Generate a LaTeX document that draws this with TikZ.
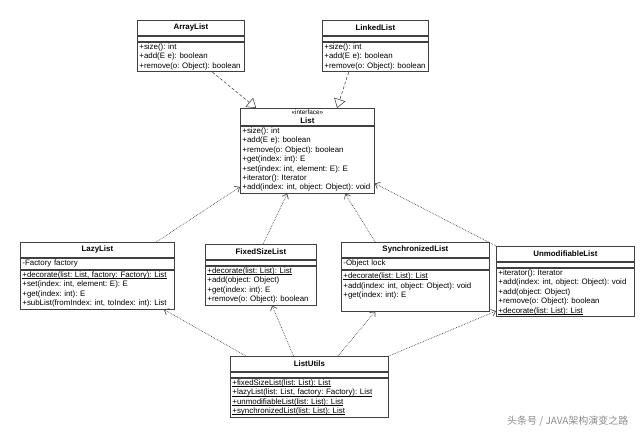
\documentclass[tikz,border=0pt]{standalone}
\usepackage{fontspec}
\setmainfont{Liberation Sans}
\newfontfamily\cjk{Noto Sans CJK SC}
\usetikzlibrary{calc,arrows.meta}
\begin{document}
\frenchspacing
\begin{tikzpicture}[x=1pt,y=-1pt,
  box/.style={draw=black!75,line width=0.8pt,fill=white,anchor=north west,inner xsep=2pt,inner ysep=1.8pt,
    font=\fontsize{7.9}{9.4}\selectfont\frenchspacing,align=left,text width=#1},
  emp/.style={box=#1,minimum height=5pt,inner ysep=0pt},
  real/.style={densely dashed,draw=black!70,line width=0.6pt,-{Triangle[open,length=9pt,width=12pt]}},
  dep/.style={densely dotted,draw=black!70,line width=0.7pt,-{Straight Barb[length=4pt,width=7pt]}}]
\useasboundingbox (0,0) rectangle (640,434);
\newcommand{\ttl}[1]{\makebox[\linewidth]{\textbf{#1}}}
\newcommand{\ul}[1]{\leavevmode\setbox0\hbox{#1}\rlap{\rule[-1.1pt]{\wd0}{0.5pt}}\box0}
% ArrayList
\node[box=103pt,minimum height=15pt] (al) at (137,20) {\ttl{ArrayList}};
\node[emp=103pt] (al2) at (al.south west) {};
\node[box=103pt] (al3) at (al2.south west) {+size(): int\\+add(E e): boolean\\+remove(o: Object): boolean};
% LinkedList
\node[box=102pt,minimum height=15pt] (ll) at (322,20) {\ttl{LinkedList}};
\node[emp=102pt] (ll2) at (ll.south west) {};
\node[box=102pt] (ll3) at (ll2.south west) {+size(): int\\+add(E e): boolean\\+remove(o: Object): boolean};
% List
\node[box=130pt] (li) at (240,108) {\makebox[\linewidth]{\fontsize{6.4}{7}\selectfont «interface»}\\[-1pt]\ttl{List}};
\node[box=130pt] (li2) at (li.south west) {+size(): int\\+add(E e): boolean\\+remove(o: Object): boolean\\+get(index: int): E\\+set(index: int, element: E): E\\+iterator(): Iterator\\+add(index: int, object: Object): void};
% LazyList
\node[box=150pt,minimum height=15pt] (lz) at (20,242) {\ttl{LazyList}};
\node[box=150pt] (lz2) at (lz.south west) {-Factory factory};
\node[box=150pt] (lz3) at (lz2.south west) {\ul{+decorate(list: List, factory: Factory): List}\\+set(index: int, element: E): E\\+get(index: int): E\\+subList(fromIndex: int, toIndex: int): List};
% FixedSizeList
\node[box=107pt,minimum height=15pt] (fx) at (205,244) {\ttl{FixedSizeList}};
\node[emp=107pt] (fx2) at (fx.south west) {};
\node[box=107pt] (fx3) at (fx2.south west) {\ul{+decorate(list: List): List}\\+add(object: Object)\\+get(index: int): E\\+remove(o: Object): boolean};
% SynchronizedList
\node[box=144pt,minimum height=15pt] (sy) at (341,242) {\ttl{SynchronizedList}};
\node[box=144pt] (sy2) at (sy.south west) {-Object lock};
\node[box=144pt,minimum height=41pt] (sy3) at (sy2.south west) {\ul{+decorate(list: List): List}\\+add(index: int, object: Object): void\\+get(index: int): E\vspace{9pt}};
% UnmodifiableList
\node[box=134pt,minimum height=15pt] (um) at (496,246) {\ttl{UnmodifiableList}};
\node[emp=134pt] (um2) at (um.south west) {};
\node[box=134pt] (um3) at (um2.south west) {+iterator(): Iterator\\+add(index: int, object: Object): void\\+add(object: Object)\\+remove(o: Object): boolean\\\ul{+decorate(list: List): List}};
% ListUtils
\node[box=154pt,minimum height=15pt] (lu) at (230,356) {\ttl{ListUtils}};
\node[emp=154pt] (lu2) at (lu.south west) {};
\node[box=154pt] (lu3) at (lu2.south west) {\ul{+fixedSizeList(list: List): List}\\\ul{+lazyList(list: List, factory: Factory): List}\\\ul{+unmodifiableList(list: List): List}\\\ul{+synchronizedList(list: List): List}};
% connectors
\draw[real] ($(al3.south west)!0.7!(al3.south east)$) -- ($(li.north west)!0.12!(li.north east)$);
\draw[real] ($(ll3.south west)!0.25!(ll3.south east)$) -- ($(li.north west)!0.72!(li.north east)$);
\draw[dep] ($(lz.north west)!0.88!(lz.north east)$) -- ($(li2.south west)!0.1!(li2.north west)$);
\draw[dep] ($(fx.north west)!0.52!(fx.north east)$) -- ($(li2.south west)!0.35!(li2.south east)$);
\draw[dep] ($(sy.north west)!0.23!(sy.north east)$) -- ($(li2.south west)!0.78!(li2.south east)$);
\draw[dep] (um.north west) -- ($(li2.south east)!0.15!(li2.north east)$);
\draw[dep] ($(lu.north west)!0.1!(lu.north east)$) -- ($(lz3.south west)!0.93!(lz3.south east)$);
\draw[dep] ($(lu.north west)!0.4!(lu.north east)$) -- ($(fx3.south west)!0.6!(fx3.south east)$);
\draw[dep] ($(lu.north west)!0.68!(lu.north east)$) -- ($(sy3.south west)!0.23!(sy3.south east)$);
\draw[dep] (lu.north east) -- ($(um3.south west)!0.12!(um3.north west)$);
\node[anchor=east,text=black!45,font=\cjk\fontsize{10}{12}\selectfont] (wm) at (632,421) {头条号 / JAVA架构演变之路};
\end{tikzpicture}
\end{document}
